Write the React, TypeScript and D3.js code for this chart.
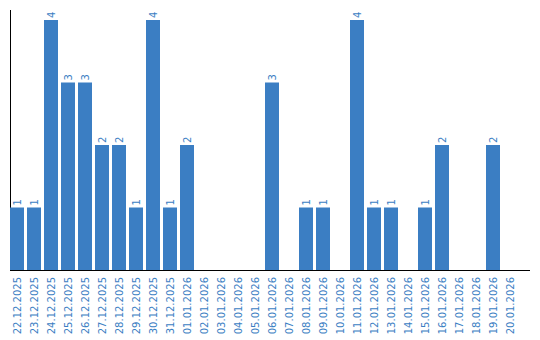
import React from "react";
import * as d3 from "d3";

const dates = [
  "22.12.2025", "23.12.2025", "24.12.2025", "25.12.2025", "26.12.2025",
  "27.12.2025", "28.12.2025", "29.12.2025", "30.12.2025", "31.12.2025",
  "01.01.2026", "02.01.2026", "03.01.2026", "04.01.2026", "05.01.2026",
  "06.01.2026", "07.01.2026", "08.01.2026", "09.01.2026", "10.01.2026",
  "11.01.2026", "12.01.2026", "13.01.2026", "14.01.2026", "15.01.2026",
  "16.01.2026", "17.01.2026", "18.01.2026", "19.01.2026", "20.01.2026",
];
const counts = [
  1, 1, 4, 3, 3, 2, 2, 1, 4, 1,
  2, 0, 0, 0, 0, 3, 0, 1, 1, 0,
  4, 1, 1, 0, 1, 2, 0, 0, 2, 0,
];

const W = 540;
const H = 340;
const BLUE = "#3b7ec3";
const FONT = "DejaVu Sans, Verdana, sans-serif";

export default function App() {
  const x = d3
    .scaleBand<string>()
    .domain(dates)
    .range([10, 520])
    .paddingInner(3 / 17)
    .paddingOuter(3 / 34)
    .align(0);
  const y = d3.scaleLinear().domain([0, 4]).range([270, 20]);
  const bw = x.bandwidth();

  return (
    <svg
      width={W}
      height={H}
      style={{ position: "absolute", left: 0, top: 0, background: "#fff" }}
      fontFamily={FONT}
    >
      <line x1={10.5} x2={10.5} y1={10} y2={270} stroke="#000" strokeWidth={1} />
      {dates.map((d, i) => {
        const v = counts[i];
        if (!v) return null;
        const x0 = x(d)!;
        return (
          <rect key={d} x={x0} y={y(v)} width={bw} height={y(0) - y(v)} fill={BLUE} />
        );
      })}
      <line x1={10} x2={530} y1={270.5} y2={270.5} stroke="#000" strokeWidth={1} />
      {dates.map((d, i) => {
        const v = counts[i];
        if (!v) return null;
        const cx = x(d)! + bw / 2;
        const ty = y(v) - 2;
        return (
          <text
            key={"v" + d}
            transform={`translate(${cx},${ty}) rotate(-90)`}
            dy="0.35em"
            fontSize={10}
            fill={BLUE}
            textAnchor="start"
          >
            {v}
          </text>
        );
      })}
      {dates.map((d) => {
        const cx = x(d)! + bw / 2;
        return (
          <text
            key={"t" + d}
            transform={`translate(${cx},277) rotate(-90)`}
            dy="0.35em"
            fontSize={10}
            fill={BLUE}
            textAnchor="end"
          >
            {d}
          </text>
        );
      })}
    </svg>
  );
}
